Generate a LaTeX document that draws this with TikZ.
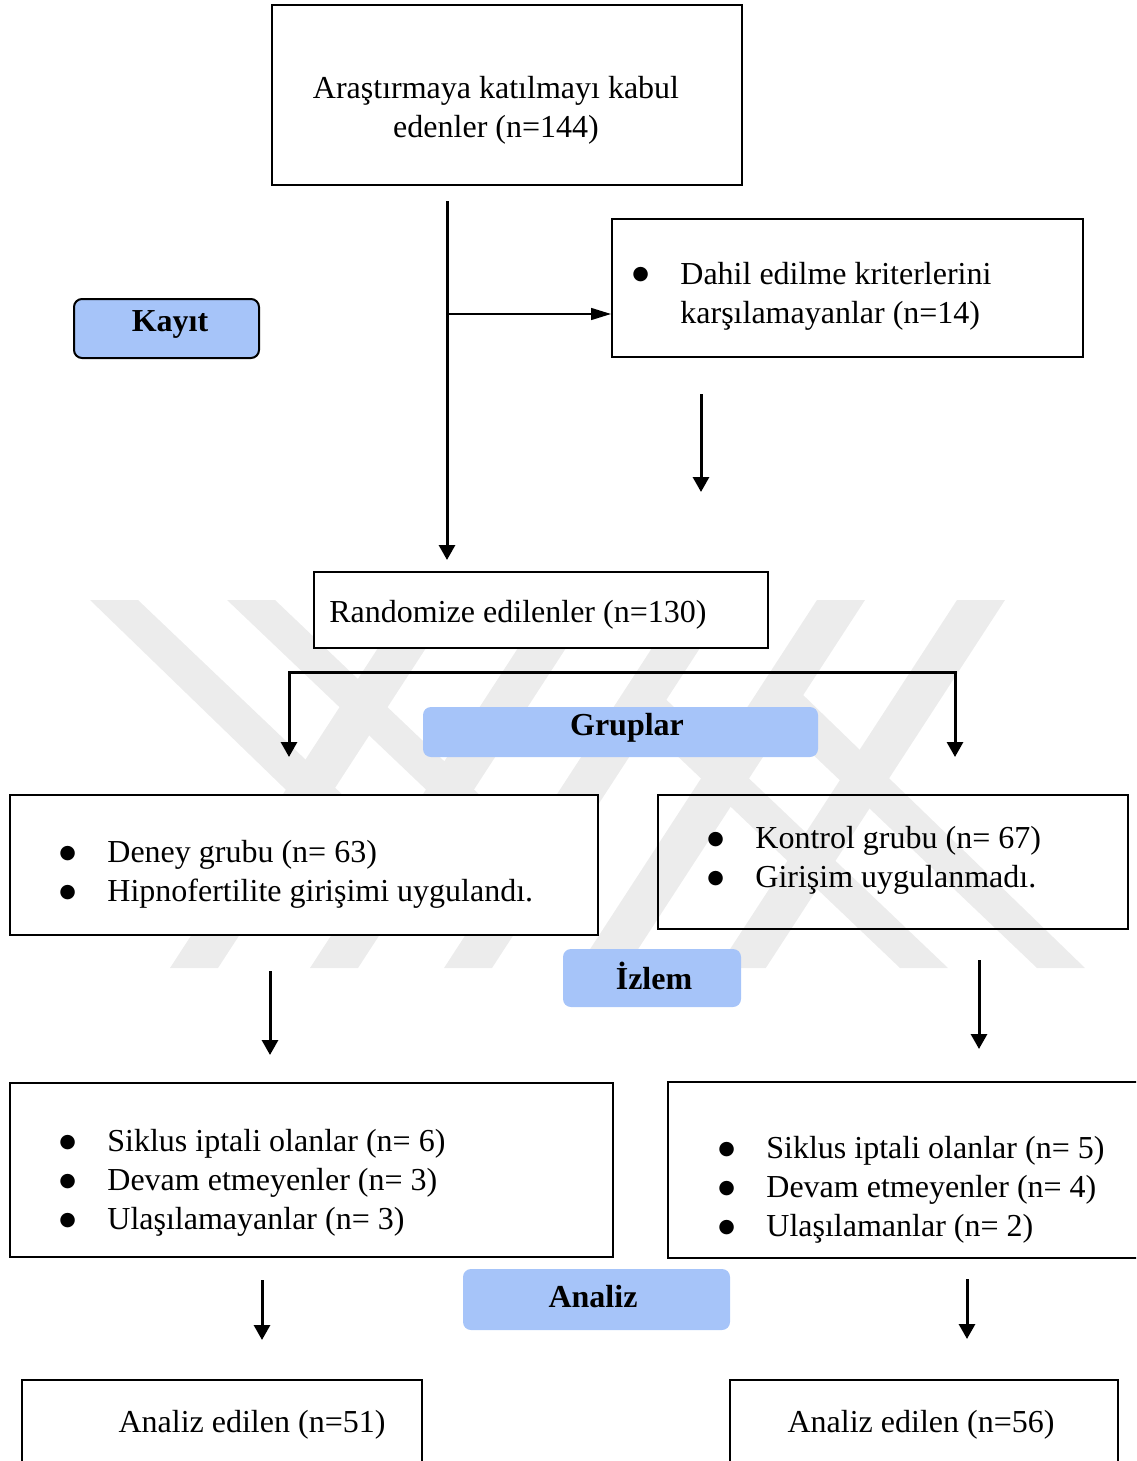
\documentclass[tikz,border=0pt]{standalone}
\usepackage{fontspec}
\setmainfont{Liberation Serif}
\newfontfamily\dvfont{DejaVu Sans}
\usetikzlibrary{arrows.meta}
\definecolor{wm}{RGB}{236,236,236}
\definecolor{lblue}{RGB}{166,196,249}
\newcommand{\bul}{\makebox[23pt][l]{\hspace*{-1pt}\raisebox{2.3pt}{\dvfont\fontsize{9.5}{9.5}\selectfont ●}}}
\begin{document}
\begin{tikzpicture}[x=0.5pt,y=-0.5pt,
  every node/.style={font=\fontsize{16}{19.5}\selectfont},
  box/.style={draw=black,line width=1pt,fill=white,inner sep=0pt},
  openbox/.style={draw=black,line width=1pt,inner sep=0pt},
  tag/.style={fill=lblue,rounded corners=4pt,inner sep=0pt},
  txt/.style={inner sep=0pt,align=left},
  lbl/.style={inner sep=0pt,font=\fontsize{16}{19.5}\selectfont\bfseries},
  arr/.style={line width=1.5pt,-{Triangle[width=8pt,length=7.5pt]}},
  thinarr/.style={line width=0.75pt,-{Triangle[width=6pt,length=10pt]}},
  band/.style={fill=wm,draw=none}]
\useasboundingbox (0,0) rectangle (1136,1461);
\clip (0,0) rectangle (1136,1461);
% watermark
\path[band] (170,968) -- (218,968) -- (457.2,600) -- (409.2,600) -- cycle;
\path[band] (310,968) -- (358,968) -- (597.2,600) -- (549.2,600) -- cycle;
\path[band] (444,968) -- (492,968) -- (731.2,600) -- (683.2,600) -- cycle;
\path[band] (577.8,968) -- (625.8,968) -- (865,600) -- (817,600) -- cycle;
\path[band] (717.8,968) -- (765.8,968) -- (1005,600) -- (957,600) -- cycle;
\path[band] (90,600) -- (138,600) -- (406.8,856) -- (383.4,884.2) -- cycle;
\path[band] (227,600) -- (275,600) -- (541.9,854.2) -- (523.6,882.5) -- cycle;
\path[band] (1085,968) -- (1037,968) -- (768.2,712) -- (791.6,683.8) -- cycle;
\path[band] (948,968) -- (900,968) -- (633.1,713.8) -- (651.4,685.5) -- cycle;
% boxes
\node[box,minimum width=235pt,minimum height=90pt] (b1) at (507,95) {};
\node[txt,align=center] (t1) at (496,110.5) {Araştırmaya katılmayı kabul\\edenler (n=144)};
\node[box,minimum width=235.5pt,minimum height=69pt] (b2) at (847.5,288) {};
\node[txt,anchor=west] (t2) at (634,296) {\bul Dahil edilme kriterlerini\\\hspace*{23pt}karşılamayanlar (n=14)};
\node[tag,draw=black,line width=1pt,minimum width=92.5pt,minimum height=29.5pt] (kayit) at (166.5,328.5) {};
\node[lbl] (kayitT) at (170,324) {Kayıt};
\node[box,minimum width=227pt,minimum height=38pt] (b3) at (541,610) {};
\node[txt,anchor=west] (t3) at (329,614.5) {Randomize edilenler (n=130)};
\node[tag,minimum width=197.5pt,minimum height=25pt] (grup) at (620.5,732) {};
\node[lbl] (grupT) at (627,728) {Gruplar};
\node[box,minimum width=294pt,minimum height=70pt] (b4) at (304,865) {};
\node[txt,anchor=west] (t4) at (61,874.5) {\bul Deney grubu (n= 63)\\\bul Hipnofertilite girişimi uygulandı.};
\node[openbox,minimum width=235pt,minimum height=67pt] (b5) at (893,862) {};
\node[txt,anchor=west] (t5) at (709,860.5) {\bul Kontrol grubu (n= 67)\\\bul Girişim uygulanmadı.};
\node[tag,minimum width=89pt,minimum height=29pt] (izlem) at (652,978) {};
\node[lbl] (izlemT) at (654,976) {İzlem};
\node[box,minimum width=301.5pt,minimum height=87pt] (b6) at (311.5,1170) {};
\node[txt,anchor=west] (t6) at (61,1183) {\bul Siklus iptali olanlar (n= 6)\\\bul Devam etmeyenler (n= 3)\\\bul Ulaşılamayanlar (n= 3)};
\node[box,minimum width=236pt,minimum height=88pt] (b7) at (904,1170) {};
\node[txt,anchor=west] (t7) at (720,1190) {\bul Siklus iptali olanlar (n= 5)\\\bul Devam etmeyenler (n= 4)\\\bul Ulaşılamanlar (n= 2)};
\node[tag,minimum width=133.5pt,minimum height=30.5pt] (analiz) at (596.5,1299.5) {};
\node[lbl] (analizT) at (593,1297) {Analiz};
\node[box,minimum width=200pt,minimum height=50pt] (b8) at (222,1430) {};
\node[txt] (t8) at (252,1425) {Analiz edilen (n=51)};
\node[box,minimum width=194pt,minimum height=50pt] (b9) at (924,1430) {};
\node[txt] (t9) at (921,1425) {Analiz edilen (n=56)};
% connectors
\coordinate (v1s) at (447,201);
\coordinate (v1e) at (447,560);
\coordinate (hb) at (0,314);
\draw[arr] (v1s) -- (v1e);
\draw[thinarr] (v1s |- hb) -- (b2.west |- hb);
\coordinate (v2s) at (701,394);
\coordinate (v2e) at (701,492);
\draw[arr] (v2s) -- (v2e);
\coordinate (gL) at (289,757);
\coordinate (gR) at (955,757);
\coordinate (gT) at (622,672);
\draw[line width=1.5pt,{Triangle[width=8pt,length=7.5pt]}-{Triangle[width=8pt,length=7.5pt]}] (gL) |- (gT) -| (gR);
\coordinate (a1s) at (270,971);
\coordinate (a1e) at (270,1055);
\draw[arr] (a1s) -- (a1e);
\coordinate (a2s) at (979,960);
\coordinate (a2e) at (979,1049);
\draw[arr] (a2s) -- (a2e);
\coordinate (a3s) at (262,1280);
\coordinate (a3e) at (262,1340);
\draw[arr] (a3s) -- (a3e);
\coordinate (a4s) at (967,1279);
\coordinate (a4e) at (967,1339);
\draw[arr] (a4s) -- (a4e);
\end{tikzpicture}
\end{document}
